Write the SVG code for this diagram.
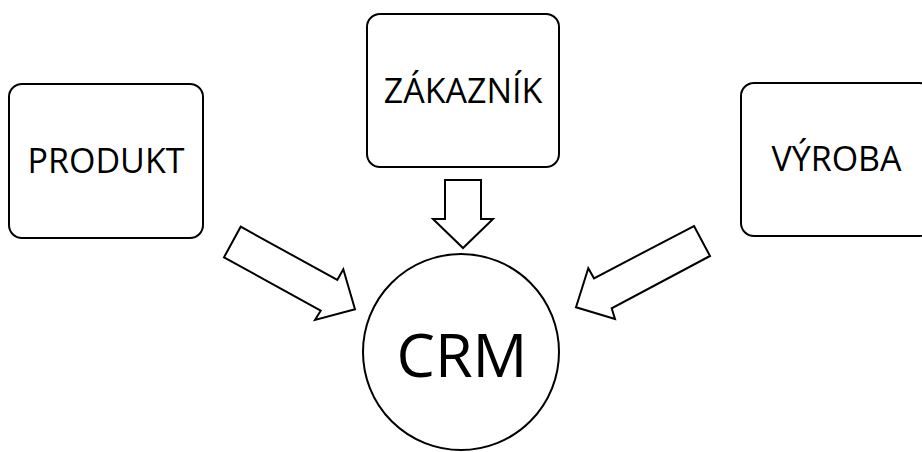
<svg xmlns="http://www.w3.org/2000/svg" width="922" height="452" viewBox="0 0 922 452">
<style>
.box{fill:#fff;stroke:#000;stroke-width:2}
.arr{fill:#fff;stroke:#000;stroke-width:2;stroke-linejoin:miter}
.lbl{font-family:"Open Sans","Liberation Sans",sans-serif;font-size:34px;fill:#000;text-anchor:middle}
.big{font-family:"Open Sans","Liberation Sans",sans-serif;font-size:61px;fill:#000;text-anchor:middle}
</style>
<rect width="922" height="452" fill="#fff"/>
<g id="produkt">
<rect class="box" x="9" y="84" width="194" height="154" rx="13"/>
<text class="lbl" x="106" y="173">PRODUKT</text>
</g>
<g id="zakaznik">
<rect class="box" x="367" y="14" width="192" height="153" rx="13"/>
<text class="lbl" x="463" y="103">ZÁKAZNÍK</text>
</g>
<g id="vyroba">
<rect class="box" x="741" y="83" width="192" height="153" rx="13"/>
<text class="lbl" x="836.5" y="171">VÝROBA</text>
</g>
<g id="crm">
<circle class="box" cx="461" cy="352" r="98"/>
<text class="big" x="462" y="377">CRM</text>
</g>
<g id="connectors">
<polygon class="arr" points="445,180 481,180 481,219 493,219 463,248 433,219 445,219"/>
<polygon class="arr" points="240.7,226.7 337.3,280 343.3,269.3 355,309.3 315,320 320.7,310.7 224,257.3"/>
<polygon class="arr" points="694,226 710,256 611.7,308.3 615,319 576,307.3 588.3,268.3 594,278.3"/>
</g>
</svg>
